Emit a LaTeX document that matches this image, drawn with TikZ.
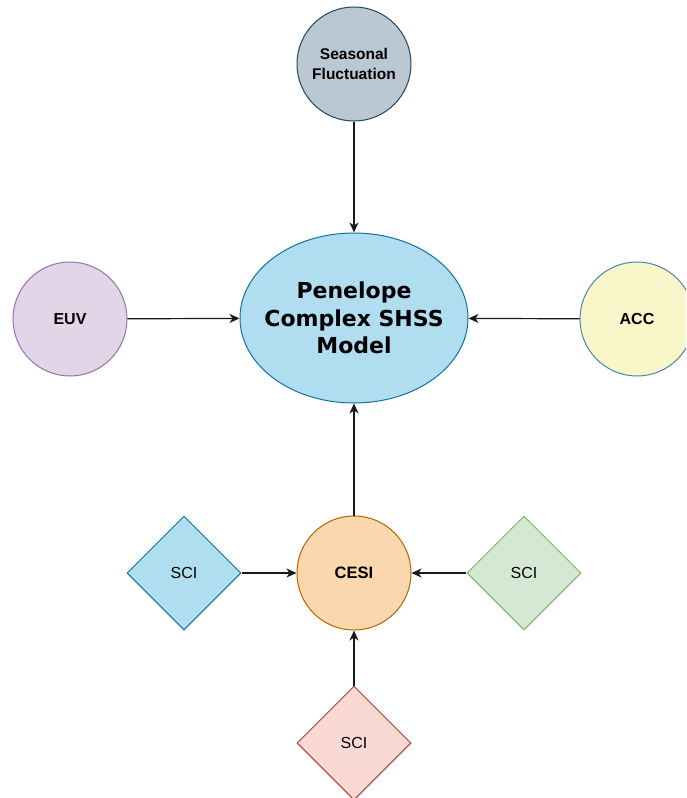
\documentclass[tikz,border=0pt]{standalone}
\usepackage{fontspec}
\setmainfont{Liberation Sans}
\newfontfamily\verdanalike{DejaVu Sans}
\usetikzlibrary{shapes.geometric,arrows.meta}

\definecolor{seaFill}{HTML}{BAC8D3}\definecolor{seaLine}{HTML}{23445D}
\definecolor{blueFill}{HTML}{B1DDF0}\definecolor{blueLine}{HTML}{10739E}
\definecolor{purpFill}{HTML}{E1D5E7}\definecolor{purpLine}{HTML}{9673A6}
\definecolor{yelFill}{HTML}{F9F7CA}\definecolor{yelLine}{HTML}{4A86A6}
\definecolor{oraFill}{HTML}{FAD7AC}\definecolor{oraLine}{HTML}{B46504}
\definecolor{grnFill}{HTML}{D5E8D4}\definecolor{grnLine}{HTML}{82B366}
\definecolor{redFill}{HTML}{FAD9D5}\definecolor{redLine}{HTML}{AE4132}

\tikzset{
  roundnode/.style={circle, draw, line width=1pt, minimum size=114pt, inner sep=0pt,
    align=center, font=\fontsize{16}{19.5}\selectfont\bfseries},
  sciamond/.style={diamond, draw, line width=1pt, minimum width=114pt, minimum height=114pt,
    inner sep=0pt, aspect=1, font=\fontsize{16}{19}\selectfont},
  link/.style={line width=1.2pt, draw=black!90, -{Stealth[length=10pt,width=9pt,inset=3pt]}}
}

\begin{document}
\begin{tikzpicture}[x=1pt, y=-1pt]
  \clip (0,0) rectangle (686,798);
  \fill[white] (0,0) rectangle (686,798);

  % central model: the outline, then its three-line title
  \node[ellipse, draw=blueLine, fill=blueFill, line width=1pt,
        minimum width=228pt, minimum height=170pt, inner sep=0pt]
    (model) at (354,318) {};
  \node[align=center, inner sep=0pt, font=\verdanalike\fontsize{22}{27.5}\selectfont\bfseries]
    (modeltitle) at (model.center) {Penelope\\Complex SHSS\\Model};

  % drivers around the model
  \node[roundnode, draw=seaLine, fill=seaFill, font=\fontsize{15.5}{20}\selectfont\bfseries]
    (season) at (354,64) {Seasonal\\Fluctuation};
  \node[roundnode, draw=purpLine, fill=purpFill] (euv) at (70,319) {EUV};
  \node[roundnode, draw=yelLine, fill=yelFill] (acc) at (637,319) {ACC};
  \node[roundnode, draw=oraLine, fill=oraFill, font=\fontsize{16.5}{20}\selectfont\bfseries]
    (cesi) at (354,573) {CESI};

  % SCI inputs to CESI
  \node[sciamond, draw=blueLine, fill=blueFill] (sciL) at (184,573) {SCI};
  \node[sciamond, draw=grnLine, fill=grnFill] (sciR) at (524,573) {SCI};
  \node[sciamond, draw=redLine, fill=redFill] (sciB) at (354,743) {SCI};

  % connectors
  \draw[link] (season) -- (model);
  \draw[link] (euv) -- (model);
  \draw[link] (acc) -- (model);
  \draw[link] (cesi) -- (model);
  \draw[link] (sciL) -- (cesi);
  \draw[link] (sciR) -- (cesi);
  \draw[link] (sciB) -- (cesi);
\end{tikzpicture}
\end{document}
